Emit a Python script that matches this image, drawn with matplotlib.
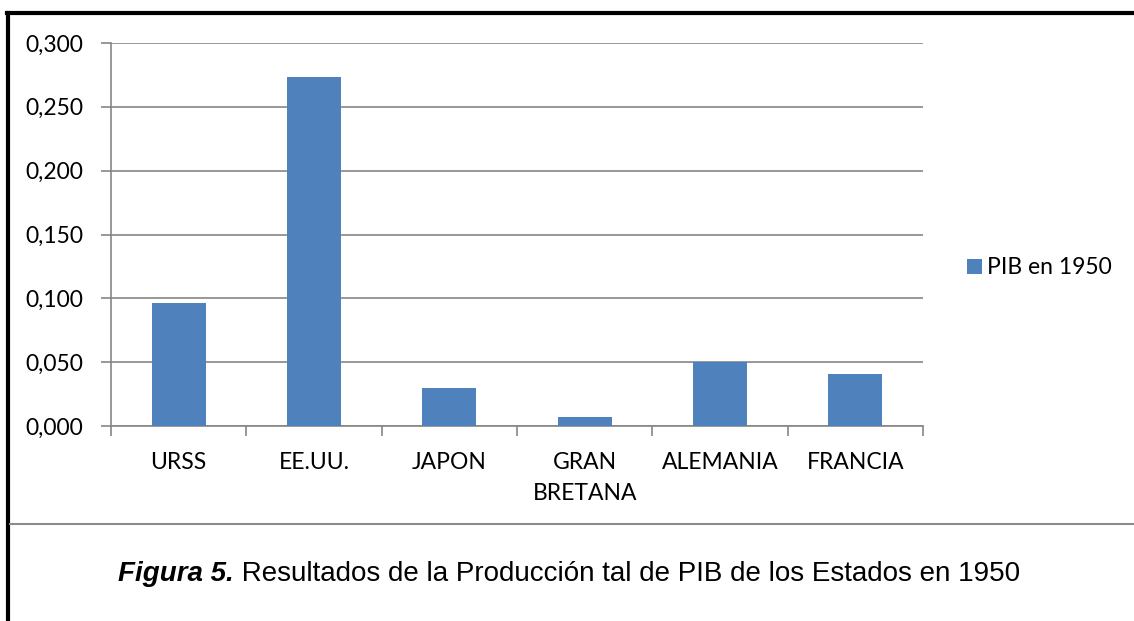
import numpy as np
import matplotlib.pyplot as plt
from matplotlib.lines import Line2D
from matplotlib.patches import Patch

# --- data ---
countries = ['URSS', 'EE.UU.', 'JAPON', 'GRAN\nBRETANA', 'ALEMANIA', 'FRANCIA']
pib_1950 = [0.096, 0.273, 0.030, 0.007, 0.050, 0.041]
y_ticks = [0.0, 0.05, 0.10, 0.15, 0.20, 0.25, 0.30]
series_label = 'PIB en 1950'
caption_bold = 'Figura 5.'
caption_rest = ' Resultados de la Producción tal de PIB de los Estados en 1950'

BAR_COLOR = '#4f81bd'
GRID_COLOR = '#868686'

plt.rcParams['font.family'] = ['Lato', 'DejaVu Sans']

fig = plt.figure(figsize=(11.34, 6.21), dpi=100)
ax = fig.add_axes([111 / 1134, 195 / 621, 812 / 1134, 383 / 621])

x = np.arange(len(countries))
ax.bar(x, pib_1950, width=0.4, color=BAR_COLOR, zorder=3, label=series_label)

ax.set_xlim(-0.5, len(countries) - 0.5)
ax.set_ylim(0, 0.3)
ax.set_yticks(y_ticks)
ax.set_yticklabels([f'{v:.3f}'.replace('.', ',') for v in y_ticks], fontsize=16.5)
ax.yaxis.grid(True, color=GRID_COLOR, linewidth=1.2, zorder=0)
ax.tick_params(axis='y', length=7, width=1.2, color=GRID_COLOR, pad=13)

ax.set_xticks(x)
ax.set_xticklabels(countries, fontsize=16.5, linespacing=1.55)
ax.set_xticks(np.arange(-0.5, len(countries)), minor=True)
ax.tick_params(axis='x', which='major', length=0, pad=19)
ax.tick_params(axis='x', which='minor', length=7, width=1.2, color=GRID_COLOR)
for lbl in ax.get_xticklabels():
    lbl.set_verticalalignment('top')

for s in ['top', 'right']:
    ax.spines[s].set_visible(False)
for s in ['left', 'bottom']:
    ax.spines[s].set_color(GRID_COLOR)
    ax.spines[s].set_linewidth(1.2)

handles = [Patch(facecolor=BAR_COLOR, label=series_label)]
fig.legend(handles=handles, loc='center left', bbox_to_anchor=(946 / 1134, 1 - 268 / 621),
           frameon=False, fontsize=16.5, handlelength=0.65, handleheight=0.65, handletextpad=0.25)

# frame lines (black top/left border, gray separator)
fig.add_artist(Line2D([8 / 1134, 8 / 1134], [0, 1 - 13 / 621], transform=fig.transFigure,
                      color='black', linewidth=3))
fig.add_artist(Line2D([6.5 / 1134, 1], [1 - 13 / 621, 1 - 13 / 621], transform=fig.transFigure,
                      color='black', linewidth=3))
fig.add_artist(Line2D([10 / 1134, 1], [1 - 524 / 621, 1 - 524 / 621], transform=fig.transFigure,
                      color='#8c8c8c', linewidth=1.5))

# caption
t1 = fig.text(118 / 1134, 1 - 581 / 621, caption_bold, fontsize=20, fontweight='bold',
              fontstyle='italic', family='Liberation Sans', va='baseline')
fig.canvas.draw()
bb = t1.get_window_extent()
fig.text(bb.x1 / fig.bbox.width, 1 - 581 / 621, caption_rest, fontsize=20,
         family='Liberation Sans', va='baseline')

fig.savefig('out.png', dpi=100)
